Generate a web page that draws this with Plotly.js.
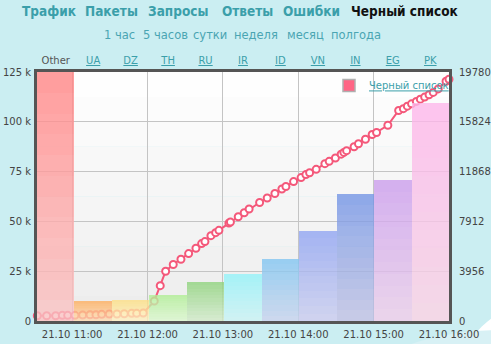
<!DOCTYPE html>
<html>
<head>
<meta charset="utf-8">
<script src="https://cdn.plot.ly/plotly-3.0.1.min.js"></script>
<style>html,body{margin:0;padding:0;background:#cbeef2;}#chart{width:491px;height:344px;}</style>
</head>
<body>
<div id="chart"></div>
<script>
// ---- data ----
const day = '2013-10-21 ';
const times = ['10:32:14','10:39:43','10:46:53','10:52:08','10:56:26','11:02:14','11:08:22','11:14:11','11:18:57','11:23:29',
  '11:29:32','11:35:40','11:41:28','11:47:22','11:51:20','11:56:35','12:05:21','12:10:07','12:14:25','12:20:28',
  '12:26:36','12:32:43','12:38:32','12:43:04','12:45:42','12:50:28','12:54:13','12:56:50','13:04:47','13:05:59',
  '13:12:12','13:16:58','13:20:52','13:29:14','13:35:16','13:41:24','13:46:58','13:50:09','13:56:17','14:02:15',
  '14:06:04','14:09:01','14:14:16','14:21:11','14:24:37','14:29:33','14:34:10','14:36:19','14:38:28','14:44:26',
  '14:47:56','14:53:30','14:58:50','15:02:20','15:11:19','15:19:55','15:23:40','15:26:50','15:30:11','15:34:00',
  '15:37:11','15:40:37','15:44:07','15:47:27','15:51:26','15:57:38','16:00:00'];
const blacklist = [419,419,419,451,451,451,475,498,498,530,
  554,554,578,609,609,633,1582,2809,3956,4486,
  4905,5356,5776,6148,6306,6781,7018,7200,7778,7857,
  8284,8600,8901,9415,9771,10127,10483,10681,11077,11393,
  11630,11773,12050,12501,12683,12952,13253,13395,13530,13846,
  14083,14439,14819,14978,15547,16726,16868,17066,17248,17446,
  17620,17786,17976,18158,18435,19044,19202];

const countries = ['Other','UA','DZ','TH','RU','IR','ID','VN','IN','EG','PK'];
const countryCounts = [125000,10000,10300,13300,19500,23500,31200,45200,63700,70900,109200];
const topColors =    ['#ff9a9a','#fbbb7b','#fbe39a','#bcefa6','#a2d993','#a6f3f8','#97cff2','#a3b3f2','#8da7e8','#d3aeee','#fbc2ec'];
const bottomColors = ['#f8cece','#f9dfbf','#fbf0cc','#e0f6d6','#d8ecd2','#d2f2f4','#cfd9ee','#d2d5f0','#cacde8','#ecd6ec','#f4dae8'];

const leftTickVals = [0,25000,50000,75000,100000,125000];
const leftTickText = ['0','25 k','50 k','75 k','100 k','125 k'];
const rightTickVals = [0,3956,7912,11868,15824,19780];
const hourTicks = ['11:00','12:00','13:00','14:00','15:00','16:00'];

const navItems = ['Трафик','Пакеты','Запросы','Ответы','Ошибки','Черный список'];
const periodItems = ['1 час','5 часов','сутки','неделя','месяц','полгода'];
const seriesName = 'Черный список';

// ---- layout helpers ----
const W = 491, H = 344, ML = 37, MR = 42, MT = 72, MB = 23;
const PW = W - ML - MR, PH = H - MT - MB;
const px = v => (v - ML) / PW;
const py = v => (H - MB - v) / PH;
const hex = h => [1,3,5].map(i => parseInt(h.substr(i,2),16));
const mix = (a,b,t) => hex(a).map((v,i)=> v + (hex(b)[i]-v)*t);
const alpha = 0.8, under = 244;
const rgba = rgb => 'rgba(' + rgb.map(v => Math.max(0,Math.min(255,Math.round((v-(1-alpha)*under)/alpha)))).join(',') + ',' + alpha + ')';

const traces = [];
traces.push({
  type:'scatter', mode:'lines+markers', x: times.map(t=>day+t), y: blacklist,
  xaxis:'x', yaxis:'y', name: seriesName, showlegend:false, cliponaxis:false,
  line:{color:'#f4587a', width:2},
  marker:{size:7, color:'#ffffff', line:{color:'#f4587a', width:2}}
});
const N = 12;
for (let k = 0; k < N; k++) {
  const t = (k + 0.5) / N;
  traces.push({
    type:'bar', x: countries, y: countryCounts.map(v=>v/N), base: countryCounts.map(v=>v*k/N),
    xaxis:'x2', yaxis:'y2', showlegend:false, hoverinfo:'skip',
    marker:{color: countries.map((c,i)=>rgba(mix(bottomColors[i], topColors[i], t))), line:{width:0}}
  });
}
traces.push({type:'bar', x:[null], y:[null], xaxis:'x2', yaxis:'y2', name:'<u>'+seriesName+'</u>', showlegend:true,
  marker:{color:'#ff6585', line:{color:'#b0b0b0', width:1.5}}});

const navX = [49,111,178,247,311,405];
const periodX = [119,165,210,256,305,356];
const annotations = [];
navItems.forEach((s,i)=>annotations.push({xref:'paper',yref:'paper',x:px(navX[i]),y:py(10.5),text:'<b>'+s+'</b>',showarrow:false,
  xanchor:'center',yanchor:'middle',font:{family:'DejaVu Sans Condensed, DejaVu Sans',size:13.5,color: i===navItems.length-1?'#111111':'#3b9faa'}}));
periodItems.forEach((s,i)=>annotations.push({xref:'paper',yref:'paper',x:px(periodX[i]),y:py(35),text:s,showarrow:false,
  xanchor:'center',yanchor:'middle',font:{family:'DejaVu Sans',size:11.5,color:'#4aa5b2'}}));

const shapes = [];
const NB = 10;
for (let i = 0; i < NB; i++) {
  const c = mix('#ececec','#ffffff',(i+0.5)/NB).map(Math.round);
  shapes.push({type:'rect', xref:'paper', yref:'paper', x0:0, x1:1, y0:i/NB, y1:(i+1)/NB, layer:'below',
    fillcolor:'rgb('+c.join(',')+')', line:{width:0}});
}
shapes.unshift({type:'circle', xref:'paper', yref:'paper', x0:px(300), x1:px(700), y0:py(600), y1:py(330), layer:'below', fillcolor:'#d8f1f5', line:{width:0}});
shapes.unshift({type:'circle', xref:'paper', yref:'paper', x0:px(455), x1:px(640), y0:py(480), y1:py(300), layer:'below', fillcolor:'#ffffff', line:{width:0}});

const tickFont = {family:'DejaVu Sans', size:10, color:'#444444'};
const layout = {
  width:W, height:H, margin:{l:ML, r:MR, t:MT, b:MB, pad:0},
  paper_bgcolor:'#cbeef2', plot_bgcolor:'rgba(0,0,0,0)',
  barmode:'overlay', bargap:0,
  font:{family:'DejaVu Sans'},
  xaxis:{type:'date', range:[day+'10:32', day+'16:00'], tickvals: hourTicks.map(h=>day+h), tickformat:'%d.%m %H:%M',
    showgrid:true, gridcolor:'#c4c4c4', gridwidth:1, zeroline:false, ticklabelstandoff:2,
    showline:true, linecolor:'#555555', linewidth:3, mirror:true, ticks:'', tickfont:tickFont, fixedrange:true},
  yaxis:{range:[0,19780], side:'right', tickvals:rightTickVals, tickformat:'d', showgrid:false, zeroline:false,
    ticklabelstandoff:5,
    showline:true, linecolor:'#555555', linewidth:3, mirror:true, ticks:'', tickfont:tickFont, fixedrange:true},
  xaxis2:{type:'category', overlaying:'x', side:'top', range:[-0.5, countries.length-0.5], showgrid:false, zeroline:false,
    ticklabelstandoff:5,
    tickvals: countries, ticktext: countries.map((c,i)=> i===0 ? '<span style="color:#555555">'+c+'</span>' : '<u>'+c+'</u>'),
    tickfont:{family:'DejaVu Sans', size:10, color:'#3b9faa'}, ticks:'', fixedrange:true},
  yaxis2:{overlaying:'y', side:'left', range:[0,125000], tickvals:leftTickVals, ticktext:leftTickText,
    ticklabelstandoff:5,
    showgrid:true, gridcolor:'#c4c4c4', gridwidth:1, zeroline:false, ticks:'', tickfont:tickFont, fixedrange:true},
  legend:{x:px(329), y:py(71), xanchor:'left', yanchor:'top', bgcolor:'rgba(0,0,0,0)', borderwidth:0,
    font:{family:'DejaVu Sans', size:10, color:'#3b9faa'}, itemwidth:30},
  annotations: annotations,
  shapes: shapes
};
Plotly.newPlot('chart', traces, layout, {displayModeBar:false, staticPlot:true});
</script>
</body>
</html>
